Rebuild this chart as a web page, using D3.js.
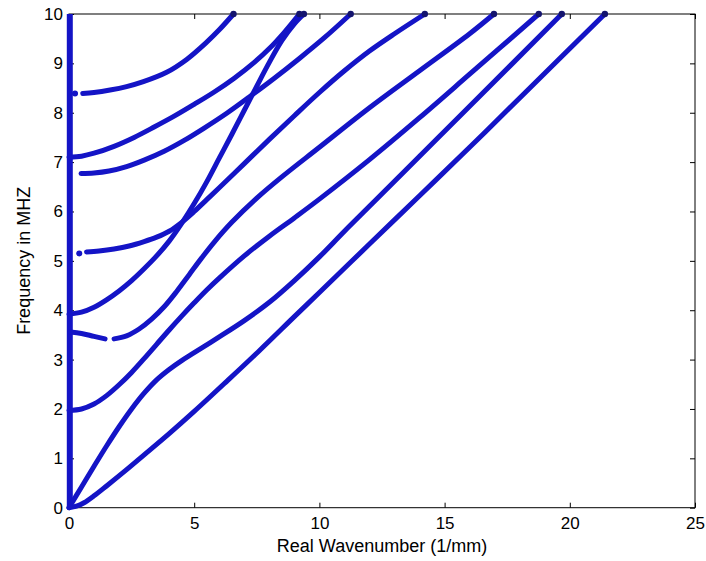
<!DOCTYPE html>
<html>
<head>
<meta charset="utf-8">
<script src="https://cdn.jsdelivr.net/npm/d3@7"></script>
<style>
  html, body { margin: 0; padding: 0; background: #ffffff; }
  svg { display: block; }
  text { font-family: "Liberation Sans", Arial, sans-serif; fill: #000; }
</style>
</head>
<body>
<svg id="chart" width="706" height="561"></svg>
<script>
// ---------------- data (wavenumber k in 1/mm, frequency f in MHz) ----------------
const xTicks = [0, 5, 10, 15, 20, 25];
const yTicks = [0, 1, 2, 3, 4, 5, 6, 7, 8, 9, 10];
const xTitle = "Real Wavenumber (1/mm)";
const yTitle = "Frequency in MHZ";

// vertical branch along k = 0
const modeZero = [[0, 0], [0, 10]];

const modeA = [[0, 0], [0.3, 0.03], [0.6, 0.1], [1.0, 0.24], [1.5, 0.44], [2.3, 0.77], [3.0, 1.07],
  [4.0, 1.5], [5.0, 1.95], [6.3, 2.56], [7.6, 3.18], [9.0, 3.87], [10.0, 4.36], [12.0, 5.34],
  [14.0, 6.32], [16.0, 7.3], [18.0, 8.3], [21.4, 10]];

const modeB = [[0, 0], [0.5, 0.42], [1.0, 0.84], [1.5, 1.25], [2.0, 1.64], [2.5, 2.0], [3.0, 2.32],
  [3.5, 2.59], [4.0, 2.8], [4.5, 2.98], [5.0, 3.14], [6.0, 3.46], [7.0, 3.79], [8.0, 4.16],
  [9.0, 4.6], [10.0, 5.08], [11.0, 5.6], [12.15, 6.18], [14.0, 7.12], [16.0, 8.13], [19.68, 10]];

const modeC = [[0, 1.97], [0.5, 2.0], [1.0, 2.1], [1.5, 2.27], [2.0, 2.49], [2.5, 2.74], [3.0, 3.02],
  [3.5, 3.31], [4.0, 3.6], [4.5, 3.88], [5.0, 4.15], [5.5, 4.41], [6.0, 4.65], [7.0, 5.1],
  [8.0, 5.5], [9.0, 5.87], [10.0, 6.25], [12.0, 7.05], [14.0, 7.9], [16.0, 8.78], [18.76, 10]];

const modeD = [[0.05, 3.56], [0.5, 3.53], [1.0, 3.47], [1.44, 3.42], null,
  [1.8, 3.42], [2.3, 3.48], [2.8, 3.62], [3.3, 3.82], [3.8, 4.07], [4.3, 4.38], [4.8, 4.72],
  [5.3, 5.06], [5.8, 5.38], [6.5, 5.78], [7.5, 6.27], [8.5, 6.7], [10.0, 7.3], [12.0, 8.1],
  [14.0, 8.85], [16.0, 9.6], [16.97, 10]];

const modeE = [[0, 3.92], [0.5, 3.96], [1.0, 4.06], [1.5, 4.21], [2.0, 4.39], [2.5, 4.6], [3.0, 4.84],
  [3.5, 5.1], [4.0, 5.4], [4.5, 5.76], [5.0, 6.16], [5.5, 6.6], [6.0, 7.08], [6.5, 7.56],
  [7.0, 8.05], [7.5, 8.54], [8.0, 9.02], [8.5, 9.46], [9.0, 9.8], [9.38, 10]];

const modeF = [[0.41, 5.15], null, [0.7, 5.18], [1.2, 5.2], [1.8, 5.24], [2.4, 5.3], [3.0, 5.39],
  [3.5, 5.48], [4.0, 5.6], [4.5, 5.78], [5.0, 6.0], [5.5, 6.24], [6.0, 6.48], [7.0, 6.97],
  [8.0, 7.46], [9.0, 7.94], [10.0, 8.41], [11.0, 8.85], [12.0, 9.25], [13.0, 9.6], [14.21, 10]];

const modeG = [[0.48, 6.77], [1.0, 6.78], [1.6, 6.82], [2.3, 6.91], [3.0, 7.04], [3.8, 7.22],
  [4.6, 7.44], [5.4, 7.69], [6.3, 7.99], [7.2, 8.32], [8.2, 8.7], [9.2, 9.1], [10.2, 9.52], [11.25, 10]];

const modeH = [[0, 7.1], [0.5, 7.12], [1.0, 7.18], [1.8, 7.32], [2.6, 7.5], [3.4, 7.71], [4.2, 7.93],
  [5.0, 8.17], [5.8, 8.42], [6.6, 8.7], [7.4, 9.02], [8.0, 9.3], [8.6, 9.63], [9.2, 10]];

const modeI = [[0.24, 8.39], null, [0.55, 8.39], [1.0, 8.41], [1.64, 8.46], [2.3, 8.53], [2.97, 8.63],
  [3.9, 8.82], [4.7, 9.08], [5.5, 9.43], [6.0, 9.68], [6.57, 10]];

const modes = [modeA, modeB, modeC, modeD, modeE, modeF, modeG, modeH, modeI];

// ---------------- layout ----------------
const svg = d3.select("#chart");
const plot = { left: 69, right: 695, top: 14, bottom: 507.7 };
const lineColor = "#1414c6";

const x = d3.scaleLinear().domain([0, 25]).range([plot.left, plot.right]);
const y = d3.scaleLinear().domain([0, 10]).range([plot.bottom, plot.top]);

// axes (inward ticks on all four sides, box on)
const fmt = d3.format("d");
const gB = svg.append("g").attr("transform", `translate(0,${plot.bottom})`)
  .call(d3.axisBottom(x).tickValues(xTicks).tickFormat(fmt).tickSizeInner(-5).tickSizeOuter(0).tickPadding(9));
const gL = svg.append("g").attr("transform", `translate(${plot.left},0)`)
  .call(d3.axisLeft(y).tickValues(yTicks).tickFormat(fmt).tickSizeInner(-5).tickSizeOuter(0).tickPadding(6));
const gT = svg.append("g").attr("transform", `translate(0,${plot.top})`)
  .call(d3.axisTop(x).tickValues(xTicks).tickFormat("").tickSizeInner(-5).tickSizeOuter(0));
const gR = svg.append("g").attr("transform", `translate(${plot.right},0)`)
  .call(d3.axisRight(y).tickValues(yTicks).tickFormat("").tickSizeInner(-5).tickSizeOuter(0));

[gB, gL, gT, gR].forEach(g => {
  g.select(".domain").remove();
  g.selectAll(".tick line").attr("stroke", "#000").attr("stroke-width", 1);
  g.selectAll("text").attr("font-size", 17).attr("font-family", "Liberation Sans, Arial, sans-serif").attr("fill", "#000");
});

// frame
svg.append("rect")
  .attr("x", plot.left).attr("y", plot.top)
  .attr("width", plot.right - plot.left).attr("height", plot.bottom - plot.top)
  .attr("fill", "none").attr("stroke", "#000").attr("stroke-width", 1);

// curves
const line = d3.line()
  .defined(d => d !== null)
  .x(d => x(d[0]))
  .y(d => y(d[1]))
  .curve(d3.curveCatmullRom.alpha(0.5));

const gCurves = svg.append("g");

gCurves.append("path")
  .datum(modeZero)
  .attr("d", d3.line().x(d => x(d[0]) + 0.8).y(d => y(d[1])))
  .attr("fill", "none").attr("stroke", lineColor).attr("stroke-width", 6);

gCurves.selectAll("path.mode")
  .data(modes)
  .join("path")
  .attr("class", "mode")
  .attr("d", line)
  .attr("fill", "none")
  .attr("stroke", lineColor)
  .attr("stroke-width", 5)
  .attr("stroke-linecap", "round")
  .attr("stroke-linejoin", "round");

// isolated starting points of segments (single markers)
const isolated = [];
modes.forEach(m => {
  m.forEach((p, i) => {
    if (p && (i === 0 || m[i - 1] === null) && (i === m.length - 1 || m[i + 1] === null)) isolated.push(p);
  });
});
gCurves.selectAll("circle.iso")
  .data(isolated)
  .join("circle")
  .attr("class", "iso")
  .attr("cx", d => x(d[0])).attr("cy", d => y(d[1])).attr("r", 3)
  .attr("fill", lineColor);

// end markers at the top edge
gCurves.selectAll("circle.end")
  .data(modes.map(m => m[m.length - 1]).filter(p => p[1] >= 10))
  .join("circle")
  .attr("class", "end")
  .attr("cx", d => x(d[0])).attr("cy", d => y(d[1])).attr("r", 3.2)
  .attr("fill", "#14146e");

// axis titles
svg.append("text")
  .attr("x", (plot.left + plot.right) / 2).attr("y", 551.5)
  .attr("text-anchor", "middle").attr("font-size", 18)
  .text(xTitle);

svg.append("text")
  .attr("transform", `translate(30,${(plot.top + plot.bottom) / 2}) rotate(-90)`)
  .attr("text-anchor", "middle").attr("font-size", 18)
  .text(yTitle);
</script>
</body>
</html>
